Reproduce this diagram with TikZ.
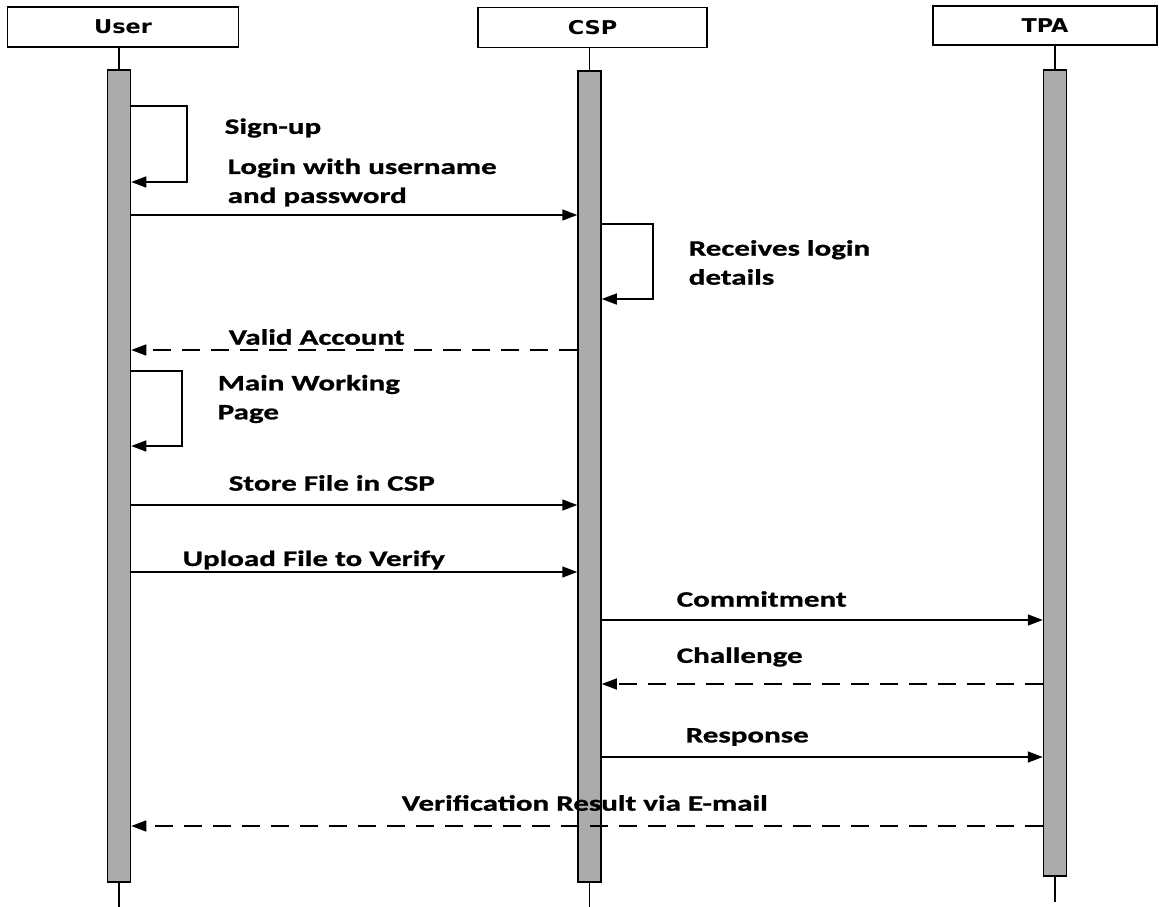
\documentclass[tikz,border=0pt]{standalone}
\usepackage{fontspec}
\usetikzlibrary{positioning,arrows.meta}
\newfontfamily\msgfont[FakeStretch=1.41, BoldFeatures={FakeBold=1}]{Carlito}
\newfontfamily\headfont[FakeStretch=1.18]{DejaVu Sans}
\definecolor{bargray}{RGB}{171,171,171}

\begin{document}
\begin{tikzpicture}[
    x=1pt, y=-1pt,
    line width=1.5pt,
    head/.style={draw, minimum height=40pt, inner sep=0pt,
                 font=\headfont\bfseries\fontsize{19}{23}\selectfont},
    bar/.style ={draw, fill=bargray, minimum width=23pt, inner sep=0pt},
    lbl/.style ={anchor=west, align=left, inner sep=0pt,
                 font=\msgfont\bfseries\fontsize{22}{29}\selectfont},
    msg/.style ={-{Triangle[length=15pt,width=11pt]}},
    ret/.style ={msg, dash pattern=on 18pt off 11pt}
  ]
    \useasboundingbox (0,0) rectangle (1159,907);

    % participants
    \node[head, minimum width=231pt] (uhead) at (123,27) {User};
    \node[head, minimum width=229pt] (chead) at (592.5,27.5) {CSP};
    \node[head, minimum width=224pt, minimum height=39pt] (thead) at (1045,25.5) {TPA};

    % activation bars
    \node[bar, minimum height=812pt] (ubar) at (119,476) {};
    \node[bar, minimum height=811pt] (cbar) at (589.5,476.5) {};
    \node[bar, minimum height=806pt] (tbar) at (1055,473) {};

    % lifeline ends
    \coordinate (uend) at (120,907);
    \coordinate (cend) at (590,907);
    \coordinate (tend) at (1055,902);
    \foreach \n in {u, c, t} {
      \draw (\n bar.north) -- (\n bar.north |- \n head.south);
      \draw (\n bar.south) -- (\n bar.south |- \n end);
    }

    % self calls
    \draw[msg] (ubar.east |- 0,106) -| (187,182) -- (ubar.east |- 0,182);
    \draw[msg] (cbar.east |- 0,224) -| (653,299) -- (cbar.east |- 0,299);
    \draw[msg] (ubar.east |- 0,371) -| (182,446) -- (ubar.east |- 0,446);

    % messages
    \foreach \a/\b/\y/\s in {ubar.east/cbar.west/215/msg, cbar.west/ubar.east/350/ret,
                             ubar.east/cbar.west/505/msg, ubar.east/cbar.west/572/msg,
                             cbar.east/tbar.west/620/msg, tbar.west/cbar.east/684/ret,
                             cbar.east/tbar.west/757/msg, tbar.west/ubar.east/826/ret}
      \draw[\s] (\a |- 0,\y) -- (\b |- 0,\y);

    % labels
    \node[lbl] (signup) at (224,128) {Sign-up};
    \node[lbl] (login) at (227,182.5) {Login with username\\and password};
    \node[lbl] (recv) at (688,262.5) {Receives login\\details};
    \node[lbl] (valid) at (228,337) {Valid Account};
    \node[lbl] (mainpg) at (217,399) {Main Working\\Page};
    \node[lbl] (store) at (228,483) {Store File in CSP};
    \node[lbl] (upload) at (182,560) {Upload File to Verify};
    \node[lbl] (commit) at (676,599) {Commitment};
    \node[lbl] (chall) at (676,657) {Challenge};
    \node[lbl] (resp) at (685,737) {Response};
    \node[lbl] (verif) at (401,803) {Verification Result via E-mail};
  \end{tikzpicture}
\end{document}
